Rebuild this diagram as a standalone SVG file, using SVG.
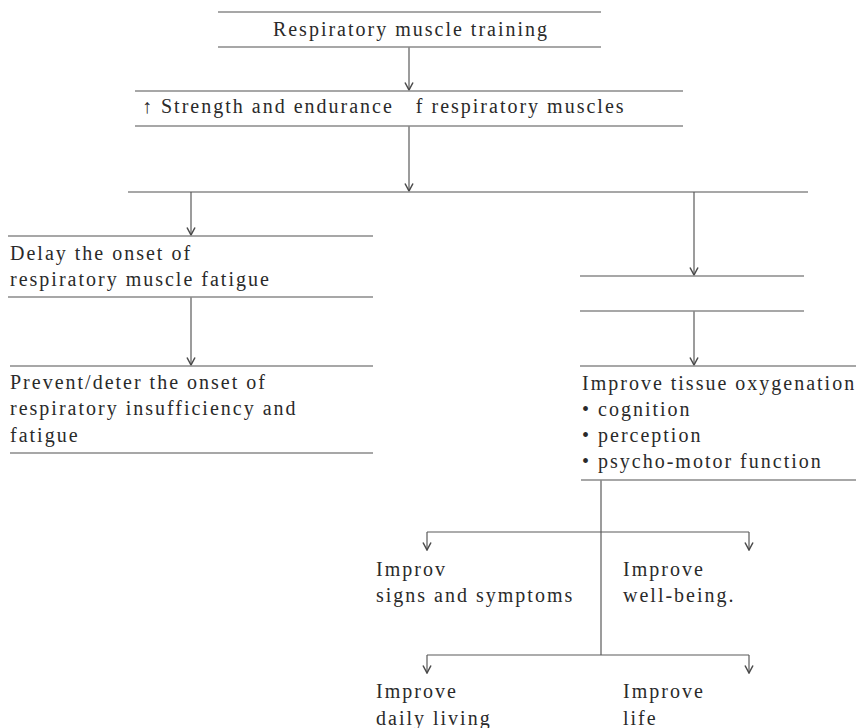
<svg xmlns="http://www.w3.org/2000/svg" width="856" height="728" viewBox="0 0 856 728">
  <style>
    .rule { stroke: #8a8a8a; stroke-width: 1.5; fill: none; }
    .conn { stroke: #5a5a5a; stroke-width: 1.2; fill: none; }
    .lbl { font-family: "Liberation Serif", "DejaVu Serif", serif; font-size: 20px; letter-spacing: 2px; fill: #2a2a2a; }
    .mid { text-anchor: middle; }
  </style>
  <defs>
    <!-- open V arrowhead, drawn pointing along +x so orient="auto" follows the line -->
    <marker id="arrow" markerUnits="userSpaceOnUse" markerWidth="10" markerHeight="10" refX="7.5" refY="4" orient="auto" viewBox="0 0 8 8">
      <path d="M1.5,0.8 L7.5,4 L1.5,7.2" fill="none" stroke="#4a4a4a" stroke-width="1.2"/>
    </marker>
  </defs>
  <rect width="856" height="728" fill="#fff"/>

  <!-- connectors -->
  <g id="connectors">
    <line class="conn" x1="409" y1="47" x2="409" y2="90" marker-end="url(#arrow)"/>
    <line class="conn" x1="409" y1="126" x2="409" y2="191" marker-end="url(#arrow)"/>
    <line class="rule" x1="128" y1="192" x2="808" y2="192"/>
    <line class="conn" x1="191" y1="192" x2="191" y2="235" marker-end="url(#arrow)"/>
    <line class="conn" x1="694" y1="192" x2="694" y2="275" marker-end="url(#arrow)"/>
    <line class="conn" x1="191" y1="297" x2="191" y2="365" marker-end="url(#arrow)"/>
    <line class="conn" x1="694" y1="311" x2="694" y2="365" marker-end="url(#arrow)"/>
    <line class="conn" x1="601" y1="480" x2="601" y2="655"/>
    <line class="conn" x1="427" y1="532" x2="749" y2="532"/>
    <line class="conn" x1="427" y1="532" x2="427" y2="550" marker-end="url(#arrow)"/>
    <line class="conn" x1="749" y1="532" x2="749" y2="550" marker-end="url(#arrow)"/>
    <line class="conn" x1="427" y1="655" x2="749" y2="655"/>
    <line class="conn" x1="427" y1="655" x2="427" y2="673" marker-end="url(#arrow)"/>
    <line class="conn" x1="749" y1="655" x2="749" y2="673" marker-end="url(#arrow)"/>
  </g>

  <g id="training">
    <line class="rule" x1="218" y1="12" x2="601" y2="12"/>
    <line class="rule" x1="218" y1="47" x2="601" y2="47"/>
    <text class="lbl mid" x="411" y="36">Respiratory muscle training</text>
  </g>

  <g id="strength">
    <line class="rule" x1="135" y1="91" x2="683" y2="91"/>
    <line class="rule" x1="135" y1="126" x2="683" y2="126"/>
    <text class="lbl" x="142" y="113">↑ Strength and endurance<tspan dx="22">f respiratory muscles</tspan></text>
  </g>

  <g id="delay-fatigue">
    <line class="rule" x1="8" y1="236" x2="373" y2="236"/>
    <line class="rule" x1="8" y1="297" x2="373" y2="297"/>
    <text class="lbl" x="10" y="260">Delay the onset of</text>
    <text class="lbl" x="10" y="286">respiratory muscle fatigue</text>
  </g>

  <g id="prevent">
    <line class="rule" x1="10" y1="366" x2="373" y2="366"/>
    <line class="rule" x1="10" y1="453" x2="373" y2="453"/>
    <text class="lbl" x="10" y="389">Prevent/deter the onset of</text>
    <text class="lbl" x="10" y="415">respiratory insufficiency and</text>
    <text class="lbl" x="10" y="442">fatigue</text>
  </g>

  <g id="middle-step">
    <line class="rule" x1="580" y1="276" x2="804" y2="276"/>
    <line class="rule" x1="580" y1="311" x2="804" y2="311"/>
  </g>

  <g id="oxygenation">
    <line class="rule" x1="580" y1="366" x2="856" y2="366"/>
    <line class="rule" x1="581" y1="480" x2="856" y2="480"/>
    <text class="lbl" x="582" y="390">Improve tissue oxygenation</text>
    <text class="lbl" x="582" y="416">• <tspan x="598">cognition</tspan></text>
    <text class="lbl" x="582" y="442">• <tspan x="598">perception</tspan></text>
    <text class="lbl" x="582" y="468">• <tspan x="598">psycho-motor function</tspan></text>
  </g>

  <g id="signs">
    <text class="lbl" x="376" y="576">Improv</text>
    <text class="lbl" x="376" y="602">signs and symptoms</text>
  </g>

  <g id="well-being">
    <text class="lbl" x="623" y="576">Improve</text>
    <text class="lbl" x="623" y="602">well-being.</text>
  </g>

  <g id="daily-living">
    <text class="lbl" x="376" y="698">Improve</text>
    <text class="lbl" x="376" y="725">daily living</text>
  </g>

  <g id="life">
    <text class="lbl" x="623" y="698">Improve</text>
    <text class="lbl" x="623" y="725">life</text>
  </g>
</svg>
